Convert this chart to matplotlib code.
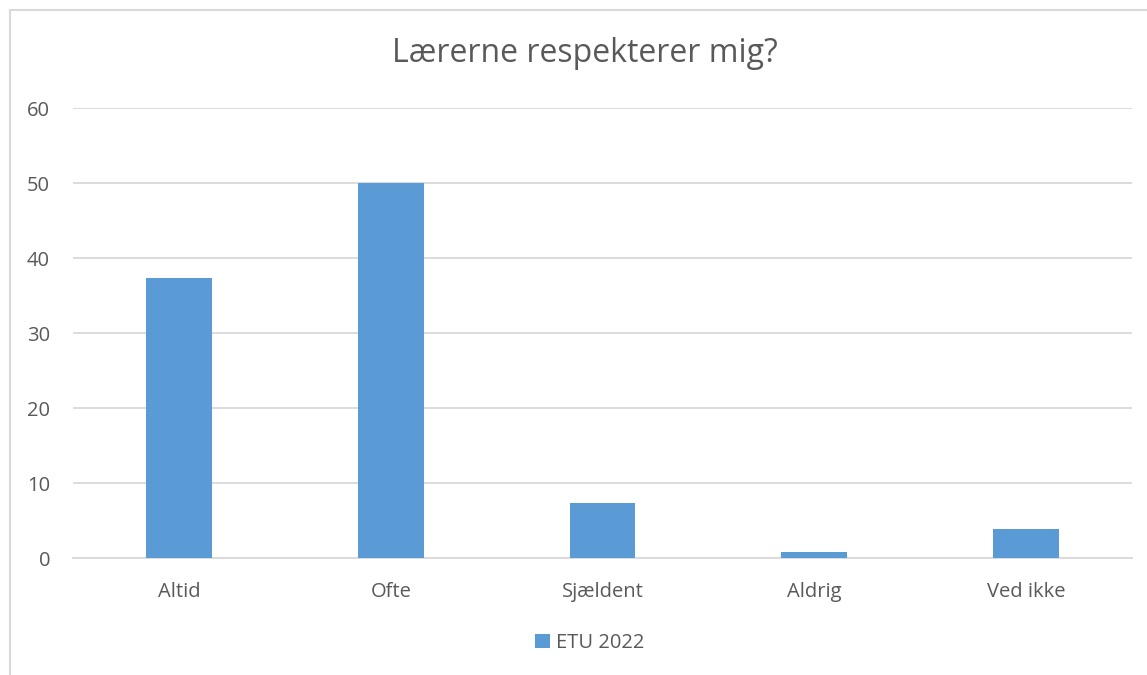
import matplotlib
matplotlib.use("Agg")
import matplotlib.pyplot as plt
from matplotlib.lines import Line2D

categories = ["Altid", "Ofte", "Sjældent", "Aldrig", "Ved ikke"]
values = [37.4, 50.1, 7.35, 0.85, 3.95]
series_name = "ETU 2022"
title = "Lærerne respekterer mig?"
yticks = [0, 10, 20, 30, 40, 50, 60]

plt.rcParams['font.family'] = ['Open Sans', 'DejaVu Sans']
text_color = "#595959"
bar_color = "#5B9BD5"
grid_color = "#D9D9D9"

W, H = 1147, 675
fig = plt.figure(figsize=(W / 100, H / 100), dpi=100)
ax = fig.add_axes([73 / W, 1 - 558.3 / H, (1132 - 73) / W, (558.3 - 108.3) / H])

x = list(range(len(categories)))
ax.bar(x, values, width=0.31, color=bar_color, label=series_name, zorder=3)
ax.set_xlim(-0.5, len(categories) - 0.5)
ax.set_ylim(0, 60)
ax.set_yticks(yticks)
ax.set_xticks(x)
ax.set_xticklabels(categories)
ax.yaxis.grid(True, color=grid_color, linewidth=1.3, zorder=0)
for s in ["top", "right", "left"]:
    ax.spines[s].set_visible(False)
ax.spines["bottom"].set_color(grid_color)
ax.spines["bottom"].set_linewidth(1.3)
ax.tick_params(axis="both", length=0, labelsize=14.5, colors=text_color)
ax.tick_params(axis="y", pad=16.5)
ax.tick_params(axis="x", pad=17)

fig.text(585 / W, 1 - 53 / H, title, ha="center", va="center", fontsize=23, color=text_color)

leg = ax.legend(loc="center", bbox_to_anchor=(590 / W, 1 - 643 / H), bbox_transform=fig.transFigure,
                frameon=False, fontsize=14.5, handlelength=0.75, handleheight=0.75, handletextpad=0.3)
for t in leg.get_texts():
    t.set_color(text_color)

# chart border (left and top only visible in reference)
fig.add_artist(Line2D([9.5 / W, 9.5 / W], [0, 1 - 10 / H], transform=fig.transFigure,
                      color=grid_color, linewidth=1.5))
fig.add_artist(Line2D([9.5 / W, 1146 / W], [1 - 10 / H, 1 - 10 / H], transform=fig.transFigure,
                      color=grid_color, linewidth=1.5))

fig.savefig("out.png", dpi=100, facecolor="white")
